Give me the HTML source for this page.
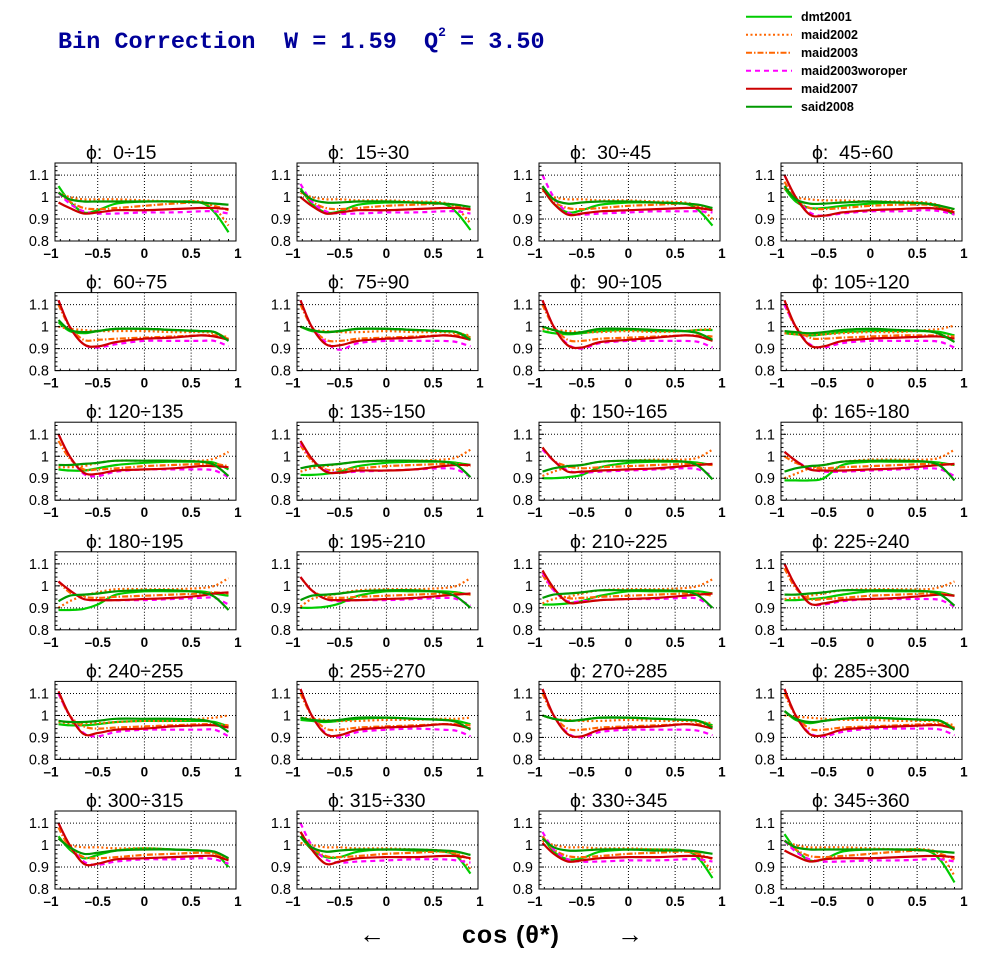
<!DOCTYPE html>
<html><head><meta charset="utf-8"><style>
html,body{margin:0;padding:0;background:#fff;}
#wrap{position:relative;width:996px;height:972px;overflow:hidden;background:#fff;}
svg{position:absolute;left:0;top:0;}
</style></head><body>
<div id="wrap">
<svg id="chart" width="996" height="972" viewBox="0 0 996 972">
  <g font-family="'Liberation Mono', monospace" font-weight="bold" fill="#000099" font-size="23.5">
    <text x="58" y="48">Bin Correction</text>
    <text x="284" y="48">W = 1.59</text>
    <text x="424" y="48">Q<tspan font-size="13" dy="-12">2</tspan><tspan dy="12"> = 3.50</tspan></text>
  </g>
  <g id="legend"></g>
  <g id="panels"></g>
  <g font-family="'Liberation Sans', sans-serif" font-weight="bold" fill="#000">
    <text x="372" y="943" font-size="26" text-anchor="middle" font-weight="normal">←</text>
    <text x="511" y="943" font-size="25" text-anchor="middle" letter-spacing="1">cos (θ*)</text>
    <text x="630" y="943" font-size="26" text-anchor="middle" font-weight="normal">→</text>
  </g>
</svg>
</div>
<script>
const seriesNames = ["dmt2001","maid2002","maid2003","maid2003woroper","maid2007","said2008"];
const seriesColors = ["#00cc00","#ff6600","#ff6600","#ff00ff","#cc0000","#009900"];
const seriesDash = ["", "2,2.5", "6,2,1.5,2", "5,4", "", ""];
const panelTitles = ["ϕ:  0÷15","ϕ:  15÷30","ϕ:  30÷45","ϕ:  45÷60","ϕ:  60÷75","ϕ:  75÷90","ϕ:  90÷105","ϕ: 105÷120","ϕ: 120÷135","ϕ: 135÷150","ϕ: 150÷165","ϕ: 165÷180","ϕ: 180÷195","ϕ: 195÷210","ϕ: 210÷225","ϕ: 225÷240","ϕ: 240÷255","ϕ: 255÷270","ϕ: 270÷285","ϕ: 285÷300","ϕ: 300÷315","ϕ: 315÷330","ϕ: 330÷345","ϕ: 345÷360"];
const cosTheta = [-0.92,-0.8,-0.65,-0.5,-0.3,0,0.3,0.6,0.75,0.9];
const xTicks = [-1,-0.5,0,0.5,1];
const xTickLabels = ["–1","–0.5","0","0.5","1"];
const yTicks = [0.8,0.9,1.0,1.1];
const yTickLabels = ["0.8","0.9","1","1.1"];

const dmt2001 = [
[1.05,0.98,0.93,0.94,0.97,0.98,0.98,0.975,0.93,0.84],
[1.04,0.97,0.93,0.935,0.965,0.975,0.975,0.97,0.93,0.85],
[1.04,0.97,0.93,0.94,0.965,0.975,0.975,0.97,0.94,0.87],
[1.04,0.98,0.95,0.95,0.96,0.97,0.975,0.97,0.95,0.92],
[1.02,0.98,0.97,0.98,0.99,0.99,0.985,0.98,0.975,0.94],
[1.0,0.98,0.975,0.98,0.99,0.99,0.985,0.98,0.975,0.95],
[0.98,0.97,0.965,0.97,0.98,0.985,0.98,0.98,0.985,0.985],
[0.97,0.965,0.96,0.965,0.975,0.98,0.98,0.98,0.975,0.96],
[0.94,0.935,0.935,0.945,0.96,0.97,0.975,0.975,0.97,0.94],
[0.915,0.915,0.92,0.93,0.955,0.97,0.975,0.975,0.97,0.96],
[0.9,0.9,0.905,0.915,0.95,0.97,0.975,0.975,0.97,0.96],
[0.89,0.89,0.89,0.9,0.96,0.975,0.975,0.975,0.97,0.96],
[0.89,0.89,0.895,0.915,0.96,0.975,0.975,0.975,0.965,0.955],
[0.9,0.9,0.905,0.92,0.955,0.975,0.975,0.975,0.97,0.96],
[0.915,0.915,0.92,0.93,0.955,0.975,0.975,0.975,0.975,0.965],
[0.935,0.935,0.94,0.945,0.96,0.975,0.975,0.975,0.97,0.955],
[0.96,0.955,0.955,0.96,0.97,0.975,0.975,0.975,0.97,0.95],
[0.98,0.975,0.97,0.975,0.985,0.99,0.985,0.98,0.975,0.96],
[1.0,0.985,0.975,0.98,0.99,0.99,0.985,0.98,0.975,0.955],
[1.02,0.98,0.965,0.975,0.985,0.99,0.985,0.98,0.975,0.94],
[1.04,0.98,0.94,0.955,0.975,0.985,0.98,0.975,0.965,0.9],
[1.04,0.98,0.945,0.945,0.97,0.98,0.975,0.97,0.95,0.87],
[1.04,0.97,0.935,0.94,0.97,0.98,0.98,0.975,0.94,0.85],
[1.05,0.98,0.93,0.935,0.97,0.98,0.98,0.975,0.93,0.83]];
const maid2002 = [
[1.02,1.0,0.99,0.99,0.99,0.985,0.98,0.98,0.95,0.87],
[1.02,1.0,0.99,0.99,0.985,0.985,0.98,0.975,0.95,0.88],
[1.03,1.0,0.99,0.99,0.985,0.985,0.98,0.975,0.955,0.9],
[1.04,1.0,0.99,0.985,0.985,0.98,0.98,0.975,0.96,0.93],
[1.0,0.99,0.985,0.98,0.98,0.98,0.975,0.975,0.97,0.95],
[1.0,0.985,0.98,0.975,0.975,0.98,0.975,0.975,0.97,0.96],
[0.99,0.985,0.98,0.975,0.975,0.98,0.975,0.98,0.985,0.99],
[0.97,0.965,0.965,0.965,0.97,0.975,0.975,0.985,0.99,1.005],
[0.95,0.95,0.955,0.97,0.98,0.98,0.98,0.98,0.99,1.02],
[0.93,0.945,0.955,0.965,0.975,0.98,0.98,0.985,0.995,1.03],
[0.91,0.93,0.95,0.96,0.975,0.98,0.985,0.985,0.995,1.03],
[0.9,0.92,0.945,0.96,0.975,0.985,0.985,0.985,0.995,1.03],
[0.9,0.93,0.955,0.97,0.985,0.985,0.985,0.99,1.0,1.035],
[0.905,0.94,0.955,0.965,0.98,0.985,0.985,0.99,1.0,1.035],
[0.92,0.94,0.95,0.965,0.98,0.985,0.985,0.99,1.0,1.03],
[0.94,0.945,0.955,0.965,0.98,0.985,0.985,0.985,0.995,1.02],
[0.97,0.965,0.965,0.965,0.97,0.975,0.975,0.985,0.99,1.0],
[0.99,0.985,0.98,0.975,0.975,0.98,0.98,0.985,0.985,0.99],
[1.0,0.985,0.98,0.975,0.975,0.98,0.975,0.975,0.97,0.965],
[1.0,0.995,0.99,0.985,0.98,0.98,0.975,0.975,0.97,0.955],
[1.03,1.0,0.99,0.99,0.985,0.985,0.98,0.975,0.965,0.93],
[1.01,1.0,0.99,0.99,0.985,0.985,0.98,0.975,0.96,0.89],
[1.02,1.0,0.99,0.99,0.985,0.985,0.98,0.975,0.955,0.875],
[1.02,1.0,0.99,0.99,0.99,0.985,0.98,0.98,0.955,0.86]];
const maid2003 = [
[1.02,0.98,0.95,0.945,0.95,0.96,0.97,0.975,0.96,0.94],
[1.03,0.98,0.95,0.945,0.95,0.96,0.965,0.97,0.96,0.94],
[1.05,0.98,0.95,0.945,0.95,0.96,0.965,0.97,0.96,0.94],
[1.07,0.99,0.95,0.945,0.95,0.96,0.965,0.965,0.955,0.935],
[1.1,1.0,0.94,0.94,0.945,0.95,0.955,0.96,0.96,0.945],
[1.1,1.0,0.94,0.935,0.945,0.95,0.955,0.96,0.96,0.95],
[1.1,1.0,0.94,0.935,0.945,0.95,0.955,0.96,0.96,0.955],
[1.1,1.0,0.95,0.945,0.95,0.955,0.96,0.96,0.96,0.955],
[1.07,0.99,0.94,0.94,0.945,0.955,0.96,0.965,0.965,0.955],
[1.05,0.98,0.94,0.94,0.945,0.955,0.96,0.965,0.965,0.955],
[1.04,0.98,0.955,0.945,0.95,0.955,0.96,0.965,0.965,0.96],
[1.0,0.97,0.95,0.945,0.95,0.955,0.96,0.965,0.965,0.96],
[1.02,0.97,0.95,0.945,0.95,0.955,0.96,0.965,0.97,0.965],
[1.04,0.98,0.95,0.945,0.95,0.955,0.96,0.965,0.965,0.96],
[1.05,0.98,0.945,0.945,0.95,0.955,0.96,0.965,0.965,0.955],
[1.08,0.99,0.94,0.94,0.945,0.955,0.96,0.965,0.965,0.955],
[1.1,1.0,0.95,0.94,0.945,0.95,0.955,0.96,0.96,0.955],
[1.1,1.0,0.94,0.935,0.945,0.95,0.955,0.96,0.96,0.955],
[1.1,1.0,0.94,0.935,0.945,0.95,0.955,0.96,0.96,0.95],
[1.1,1.0,0.94,0.935,0.945,0.95,0.955,0.96,0.96,0.945],
[1.08,0.99,0.945,0.94,0.945,0.955,0.96,0.965,0.96,0.935],
[1.06,0.99,0.95,0.945,0.95,0.96,0.965,0.97,0.96,0.935],
[1.04,0.98,0.95,0.945,0.95,0.96,0.965,0.97,0.96,0.935],
[1.02,0.98,0.95,0.945,0.95,0.96,0.97,0.975,0.96,0.935]];
const maid2003woroper = [
[1.02,0.97,0.935,0.925,0.925,0.93,0.93,0.935,0.935,0.925],
[1.06,0.98,0.935,0.925,0.925,0.93,0.93,0.935,0.935,0.925],
[1.1,1.0,0.93,0.92,0.925,0.93,0.935,0.935,0.935,0.93],
[1.1,1.0,0.93,0.915,0.925,0.935,0.935,0.94,0.935,0.92],
[1.12,1.0,0.92,0.905,0.92,0.935,0.935,0.935,0.935,0.91],
[1.12,1.0,0.93,0.895,0.925,0.935,0.935,0.935,0.93,0.91],
[1.12,1.0,0.92,0.9,0.925,0.935,0.935,0.935,0.93,0.905],
[1.1,1.0,0.92,0.905,0.925,0.935,0.935,0.935,0.93,0.905],
[1.1,1.0,0.92,0.91,0.93,0.94,0.94,0.94,0.935,0.905],
[1.06,0.99,0.935,0.925,0.93,0.935,0.94,0.945,0.94,0.905],
[1.03,0.98,0.935,0.925,0.93,0.935,0.94,0.945,0.94,0.91],
[1.02,0.98,0.945,0.93,0.93,0.935,0.94,0.945,0.94,0.91],
[1.02,0.98,0.94,0.935,0.935,0.935,0.94,0.945,0.945,0.915],
[1.04,0.98,0.94,0.93,0.935,0.935,0.94,0.945,0.94,0.91],
[1.06,0.98,0.93,0.93,0.935,0.94,0.94,0.945,0.94,0.9],
[1.1,1.0,0.92,0.915,0.93,0.94,0.94,0.94,0.935,0.905],
[1.1,1.0,0.92,0.905,0.925,0.935,0.935,0.935,0.935,0.905],
[1.12,1.0,0.92,0.9,0.925,0.935,0.94,0.935,0.93,0.905],
[1.12,1.0,0.92,0.9,0.925,0.935,0.935,0.935,0.93,0.91],
[1.12,1.0,0.92,0.905,0.925,0.94,0.94,0.94,0.935,0.91],
[1.1,1.0,0.925,0.91,0.925,0.935,0.935,0.94,0.935,0.915],
[1.1,1.0,0.935,0.92,0.925,0.93,0.935,0.935,0.93,0.92],
[1.06,0.98,0.935,0.925,0.925,0.93,0.93,0.935,0.935,0.925],
[1.02,0.97,0.935,0.925,0.925,0.93,0.93,0.935,0.935,0.925]];
const maid2007 = [
[0.975,0.95,0.925,0.93,0.94,0.94,0.945,0.95,0.95,0.945],
[1.0,0.96,0.925,0.93,0.94,0.94,0.945,0.95,0.95,0.945],
[1.04,0.97,0.92,0.925,0.935,0.94,0.945,0.95,0.95,0.94],
[1.1,1.0,0.92,0.915,0.93,0.94,0.945,0.95,0.945,0.93],
[1.12,1.0,0.92,0.91,0.93,0.945,0.95,0.96,0.955,0.94],
[1.12,1.0,0.92,0.915,0.935,0.945,0.95,0.96,0.955,0.94],
[1.12,1.0,0.915,0.905,0.93,0.94,0.95,0.96,0.955,0.935],
[1.12,1.0,0.915,0.91,0.935,0.945,0.95,0.955,0.955,0.945],
[1.1,1.0,0.925,0.92,0.935,0.94,0.945,0.955,0.955,0.95],
[1.07,0.99,0.93,0.925,0.935,0.935,0.94,0.955,0.96,0.96],
[1.04,0.98,0.93,0.93,0.935,0.94,0.945,0.955,0.96,0.965],
[1.02,0.98,0.94,0.935,0.935,0.94,0.945,0.955,0.96,0.965],
[1.02,0.98,0.94,0.935,0.935,0.94,0.945,0.955,0.965,0.97],
[1.04,0.98,0.94,0.935,0.935,0.94,0.945,0.955,0.96,0.965],
[1.07,0.99,0.925,0.925,0.935,0.94,0.945,0.955,0.96,0.965],
[1.1,1.0,0.92,0.92,0.935,0.94,0.945,0.955,0.96,0.955],
[1.11,1.0,0.915,0.92,0.935,0.94,0.95,0.955,0.955,0.945],
[1.12,1.0,0.915,0.91,0.935,0.945,0.95,0.96,0.955,0.94],
[1.12,1.0,0.915,0.905,0.935,0.945,0.95,0.96,0.955,0.94],
[1.12,1.0,0.915,0.91,0.935,0.945,0.95,0.955,0.955,0.94],
[1.1,1.0,0.915,0.915,0.935,0.94,0.945,0.95,0.95,0.93],
[1.06,0.98,0.915,0.925,0.94,0.945,0.945,0.95,0.95,0.94],
[1.01,0.96,0.925,0.93,0.94,0.945,0.945,0.95,0.95,0.94],
[0.975,0.95,0.925,0.935,0.94,0.94,0.945,0.95,0.95,0.945]];
const said2008 = [
[1.02,0.99,0.98,0.98,0.98,0.98,0.98,0.975,0.97,0.965],
[1.03,0.99,0.975,0.975,0.98,0.98,0.975,0.97,0.965,0.955],
[1.05,0.99,0.97,0.975,0.98,0.98,0.975,0.97,0.965,0.95],
[1.05,0.99,0.97,0.97,0.975,0.98,0.975,0.97,0.96,0.945],
[1.03,0.985,0.975,0.98,0.99,0.99,0.985,0.98,0.975,0.935],
[1.0,0.985,0.975,0.98,0.99,0.99,0.985,0.98,0.975,0.94],
[1.0,0.985,0.97,0.975,0.99,0.99,0.985,0.98,0.97,0.94],
[0.98,0.975,0.97,0.975,0.985,0.99,0.985,0.98,0.965,0.93],
[0.96,0.96,0.965,0.97,0.98,0.98,0.98,0.975,0.96,0.91],
[0.945,0.955,0.96,0.965,0.975,0.98,0.98,0.975,0.96,0.905],
[0.93,0.945,0.955,0.96,0.975,0.98,0.98,0.975,0.955,0.895],
[0.93,0.945,0.955,0.96,0.975,0.98,0.98,0.975,0.955,0.89],
[0.93,0.955,0.96,0.965,0.975,0.98,0.98,0.97,0.95,0.89],
[0.935,0.955,0.96,0.965,0.975,0.98,0.98,0.97,0.95,0.9],
[0.945,0.96,0.965,0.97,0.98,0.98,0.98,0.975,0.955,0.9],
[0.96,0.96,0.965,0.97,0.98,0.98,0.98,0.975,0.96,0.91],
[0.975,0.97,0.97,0.975,0.985,0.985,0.985,0.98,0.965,0.925],
[0.99,0.98,0.975,0.98,0.99,0.99,0.985,0.98,0.97,0.935],
[1.0,0.985,0.975,0.98,0.99,0.99,0.985,0.98,0.975,0.945],
[1.02,0.985,0.97,0.975,0.985,0.99,0.985,0.98,0.975,0.935],
[1.03,0.99,0.96,0.965,0.975,0.98,0.98,0.975,0.97,0.94],
[1.04,0.99,0.97,0.975,0.98,0.98,0.98,0.975,0.97,0.955],
[1.03,0.99,0.975,0.975,0.98,0.98,0.975,0.975,0.97,0.96],
[1.02,0.99,0.98,0.98,0.98,0.98,0.98,0.975,0.97,0.965]];
const allSeries = [dmt2001, maid2002, maid2003, maid2003woroper, maid2007, said2008];

const NS = "http://www.w3.org/2000/svg";
const FONT = "'Liberation Sans', sans-serif";
function mk(tag, attrs, parent){ const e=document.createElementNS(NS,tag); for(const k in attrs) e.setAttribute(k,attrs[k]); parent.appendChild(e); return e; }

const legend = document.getElementById('legend');
seriesNames.forEach((n,i)=>{
  const y = 16.7 + i*18;
  const ln = mk('line',{x1:746,x2:792,y1:y,y2:y,stroke:seriesColors[i],'stroke-width':2,'stroke-dasharray':seriesDash[i]||'none'},legend);
  
  
  const t = mk('text',{x:801,y:y+4.5,'font-family':FONT,'font-weight':'bold','font-size':12.5,fill:'#000'},legend);
  t.textContent = n;
  
  
});

const X0=-0.957, X1=0.98, Y0=0.8, Y1=1.155;
const PW=181, PH=78;
const panels = document.getElementById('panels');
panelTitles.forEach((title,p)=>{
  const c=p%4, r=Math.floor(p/4);
  const L=55+c*242, T=163+r*129.6;
  const sx=v=>L+(v-X0)/(X1-X0)*PW;
  const sy=v=>T+PH-(v-Y0)/(Y1-Y0)*PH;
  const g=mk('g',{},panels);
  
  
  const cid='clip'+p;
  const cp=mk('clipPath',{id:cid},g);
  mk('rect',{x:L,y:T,width:PW,height:PH},cp);
  xTicks.forEach(v=>{ if(v>X0&&v<X1){ const gl=mk('line',{x1:sx(v),x2:sx(v),y1:T,y2:T+PH,stroke:'#000','stroke-width':1,'stroke-dasharray':'1,2'},g);
    
     }});
  yTicks.forEach(v=>{ if(v>Y0&&v<Y1){ const gl=mk('line',{x1:L,x2:L+PW,y1:sy(v),y2:sy(v),stroke:'#000','stroke-width':1,'stroke-dasharray':'1,2'},g);
    
     }});
  allSeries.forEach((ser,s)=>{
    const vals=ser[p];
    const pts=cosTheta.map((x,i)=>[sx(x),sy(vals[i])]);
    let d='M'+pts[0][0].toFixed(1)+','+pts[0][1].toFixed(1);
    for(let i=0;i<pts.length-1;i++){
      const p0=pts[Math.max(0,i-1)],p1=pts[i],p2=pts[i+1],p3=pts[Math.min(pts.length-1,i+2)];
      const c1=[p1[0]+(p2[0]-p0[0])/6,p1[1]+(p2[1]-p0[1])/6];
      const c2=[p2[0]-(p3[0]-p1[0])/6,p2[1]-(p3[1]-p1[1])/6];
      d+=' C'+c1[0].toFixed(1)+','+c1[1].toFixed(1)+' '+c2[0].toFixed(1)+','+c2[1].toFixed(1)+' '+p2[0].toFixed(1)+','+p2[1].toFixed(1);
    }
    const path=mk('path',{d:d,fill:'none',stroke:seriesColors[s],'stroke-width':2.2,'stroke-dasharray':seriesDash[s]||'none','clip-path':'url(#'+cid+')'},g);
    
    
  });
  const fr=mk('rect',{x:L,y:T,width:PW,height:PH,fill:'none',stroke:'#000','stroke-width':1},g);
  
  
  for(let v=-1;v<=1.001;v+=0.1){ if(v<X0||v>X1) continue; const major=Math.abs(v*2-Math.round(v*2))<0.01;
    mk('line',{x1:sx(v),x2:sx(v),y1:T+PH,y2:T+PH-(major?4:2),stroke:'#000','stroke-width':1},g); }
  for(let v=0.8;v<=1.155;v+=0.02){ const major=Math.abs(v*10-Math.round(v*10))<0.01;
    mk('line',{x1:L,x2:L+(major?5:2.5),y1:sy(v),y2:sy(v),stroke:'#000','stroke-width':1},g); }
  xTicks.forEach((v,i)=>{
    const t=mk('text',{x:sx(v),y:T+PH+17,'font-family':FONT,'font-weight':'bold','font-size':13.5,'text-anchor':'middle',fill:'#000'},g);
    t.textContent=xTickLabels[i];
    
    
  });
  yTicks.forEach((v,i)=>{
    const t=mk('text',{x:L-6,y:sy(v)+5,'font-family':FONT,'font-size':14.5,'text-anchor':'end',fill:'#000'},g);
    t.textContent=yTickLabels[i];
    
    
  });
  const tt=mk('text',{x:L+31,y:T-4,'font-family':FONT,'font-size':19.5,fill:'#000','xml:space':'preserve'},g);
  tt.style.whiteSpace='pre';
  tt.textContent=title;
  
  
});
</script>
</body></html>
